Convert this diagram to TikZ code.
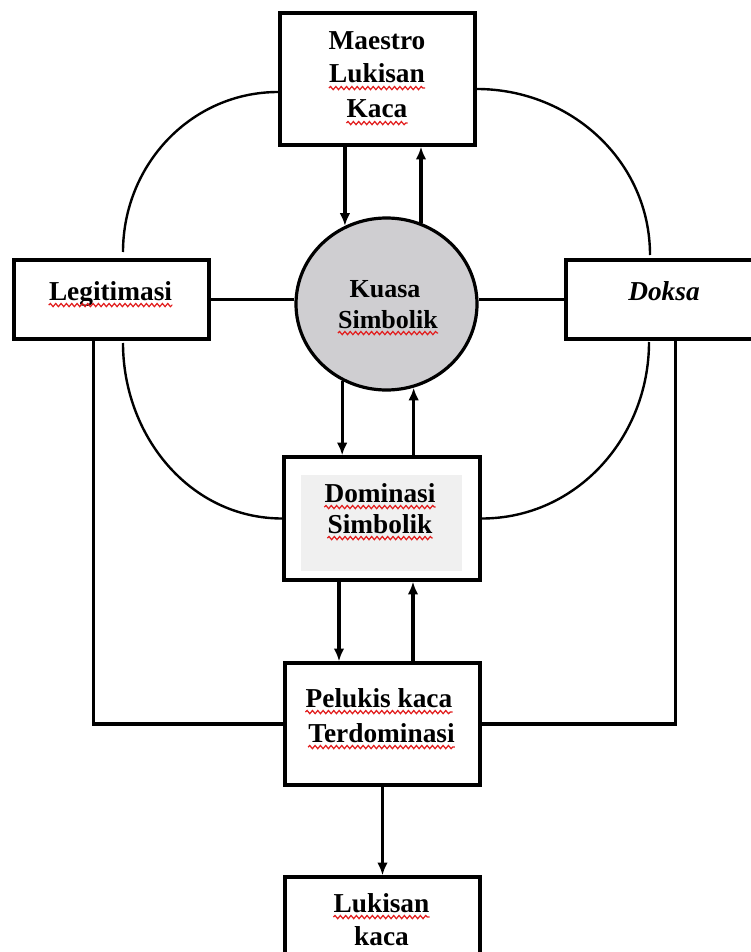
\documentclass[tikz,border=0pt]{standalone}
\usepackage{fontspec}
\setmainfont{Liberation Serif}
\usetikzlibrary{arrows.meta,shapes.geometric,calc,decorations.pathmorphing}

\definecolor{kuasafill}{RGB}{207,206,209}
\definecolor{panelfill}{RGB}{240,240,240}
\definecolor{spellred}{RGB}{226,28,28}

\begin{document}
\begin{tikzpicture}[x=0.75pt, y=0.75pt,
  frame/.style={draw, line width=2.6pt, inner sep=0pt, fill=white},
  word/.style={font=\bfseries\fontsize{20.5}{24}\selectfont, inner sep=0pt, anchor=base},
  smallword/.style={font=\bfseries\fontsize{19.5}{23}\selectfont, inner sep=0pt, anchor=base},
  link/.style={line width=2.4pt},
  loop/.style={line width=1.8pt},
  arr/.style={line width=2.5pt, -{Latex[length=9.5pt,width=8pt]}},
  squiggle/.style={draw=spellred, line width=0.9pt,
    decorate, decoration={snake, segment length=4pt, amplitude=1.2pt}},
]
\useasboundingbox (0,0) rectangle (750,-952);

% ---- boxes ----
\node[frame, minimum width=146.25pt, minimum height=99pt]    (maestro)  at (377.5,-79)   {};
\node[frame, minimum width=146.25pt, minimum height=59.25pt] (legit)    at (111.5,-299.5) {};
\node[frame, minimum width=147pt,    minimum height=59.25pt] (doksa)    at (664,-299.5)  {};
\node[draw, ellipse, line width=2.4pt, fill=kuasafill, inner sep=0pt,
      minimum width=135.75pt, minimum height=129pt] (kuasa) at (386.5,-304) {};
\node[frame, minimum width=147pt,    minimum height=92.25pt] (dominasi) at (382,-518.5)  {};
\node[fill=panelfill, inner sep=0pt, minimum width=120.75pt, minimum height=72pt]
      (domfill) at (381.5,-523) {};
\node[frame, minimum width=146.25pt, minimum height=91.5pt]  (pelukis)  at (382.5,-724)  {};
\node[frame, minimum width=146.25pt, minimum height=63.75pt] (lukisan)  at (382.5,-919.5) {};

% ---- texts, one node per line, placed on their baselines ----
\node[word] (maestroA) at (377,-49.5) {Maestro};
\node[word] (maestroB) at (377,-83)   {Lukisan};
\node[word] (maestroC) at (377,-118)  {Kaca};
\node[word] (legitA)   at (110.5,-300) {Legitimasi};
\node[word, font=\bfseries\itshape\fontsize{20.5}{24}\selectfont] (doksaA) at (664,-300) {Doksa};
\node[smallword] (kuasaA) at (385,-297) {Kuasa};
\node[smallword] (kuasaB) at (388,-328) {Simbolik};
\node[word] (domA) at (380,-502) {Dominasi};
\node[word] (domB) at (380,-533) {Simbolik};
\node[word] (pelA) at (379,-707) {Pelukis kaca};
\node[word] (pelB) at (381.5,-742) {Terdominasi};
\node[word] (lukA) at (381.5,-912) {Lukisan};
\node[word] (lukB) at (381.5,-945) {kaca};

% red wavy underlines under the flagged words
\foreach \w in {maestroB, maestroC, legitA, kuasaB, domA, domB, pelA, pelB, lukA}
  \draw[squiggle] ([yshift=-3.8pt]\w.base west) -- ([yshift=-3.8pt]\w.base east);

% ---- straight links to the centre ----
\draw[link] (legit.east) -- (legit.east -| kuasa.west);
\draw[link] (doksa.west) -- (doksa.west -| kuasa.east);

% ---- arrows along the central column ----
\coordinate (lowL) at (339,0);
\coordinate (lowR) at (413,0);
\draw[arr] (maestro.south -| kuasa.118) -- (kuasa.118);
\draw[arr] (kuasa.67) -- (kuasa.67 |- maestro.south);
\draw[arr] (kuasa.240) -- (kuasa.240 |- dominasi.north);
\draw[arr] (kuasa.288 |- dominasi.north) -- (kuasa.288);
\draw[arr] (dominasi.south -| lowL) -- (pelukis.north -| lowL);
\draw[arr] (pelukis.north -| lowR) -- (dominasi.south -| lowR);
\draw[arr] (pelukis.south) -- (lukisan.north);

% ---- outer side lines ----
\draw[link] (legit.south west) ++(81,0) |- (pelukis.west);
\draw[link] (doksa.south west) ++(111,0) |- (pelukis.east);

% ---- rounded loops around the centre ----
\coordinate (tlB) at (123,-252);
\coordinate (trB) at (650,-255);
\coordinate (blA) at (123,-343);
\coordinate (brA) at (649,-342);
\draw[loop] ([yshift=-9.75pt]maestro.west) to[out=180,in=90] (tlB);
\draw[loop] ([yshift=-7.5pt]maestro.east) to[out=0,in=90] (trB);
\draw[loop] (blA) to[out=-90,in=180] (dominasi.west);
\draw[loop] (brA) to[out=-90,in=0] (dominasi.east);
\end{tikzpicture}
\end{document}
